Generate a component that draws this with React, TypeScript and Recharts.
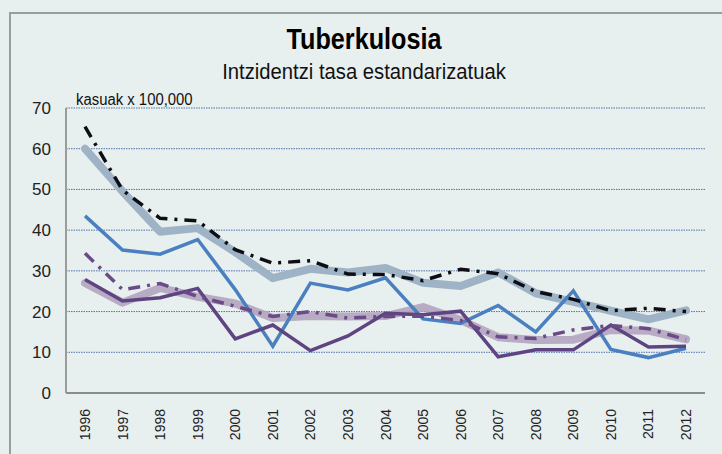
import { LineChart, Line, XAxis, YAxis, CartesianGrid } from "recharts";

const years = [
  "1996", "1997", "1998", "1999", "2000", "2001", "2002", "2003", "2004",
  "2005", "2006", "2007", "2008", "2009", "2010", "2011", "2012",
];

// thick steel-blue band
const thickBlue = [60, 49.5, 39.6, 40.5, 34.6, 28.2, 30.5, 29.6, 30.7, 27.1, 26.3, 29.6, 24.5, 22.4, 20.2, 18.1, 20.3];
// black dash-dot
const blackDash = [65.4, 49.8, 42.9, 42.3, 35.2, 31.9, 32.5, 29.2, 29.1, 27.6, 30.4, 29.3, 24.9, 23.0, 20.2, 20.8, 20.0];
// medium blue solid
const blueLine = [43.5, 35.1, 34.1, 37.7, 25.4, 11.5, 27.0, 25.3, 28.3, 18.2, 17.1, 21.5, 15.0, 25.1, 10.7, 8.7, 11.0];
// thick light mauve band
const thickMauve = [27.0, 22.2, 25.8, 23.6, 22.0, 18.4, 18.9, 18.8, 18.9, 21.1, 17.9, 13.7, 13.0, 13.1, 15.5, 15.3, 13.2];
// purple dash-dot
const purpleDash = [34.3, 25.4, 26.9, 23.7, 21.3, 18.8, 20.0, 18.4, 18.8, 18.9, 17.8, 13.8, 13.4, 15.5, 16.6, 15.8, 13.1];
// dark purple solid
const purpleLine = [27.9, 22.6, 23.4, 25.7, 13.3, 16.7, 10.4, 14.0, 19.6, 19.2, 20.1, 8.9, 10.6, 10.6, 16.7, 11.3, 11.5];

const yTicks = [0, 10, 20, 30, 40, 50, 60, 70];

const data = years.map((year, i) => ({
  year,
  thickBlue: thickBlue[i],
  blackDash: blackDash[i],
  blueLine: blueLine[i],
  thickMauve: thickMauve[i],
  purpleDash: purpleDash[i],
  purpleLine: purpleLine[i],
}));

const font = '"Liberation Sans", Arial, sans-serif';

function YearTick(props: any) {
  const { x, y, payload } = props;
  return (
    <text
      x={x}
      y={y + 8}
      transform={`rotate(-90, ${x}, ${y + 8})`}
      textAnchor="end"
      dy="0.36em"
      fill="#222"
      fontSize={14}
      fontFamily={font}
    >
      {payload.value}
    </text>
  );
}

export default function App() {
  return (
    <div
      style={{
        position: "absolute",
        left: 0,
        top: 0,
        width: 722,
        height: 454,
        background: "#e8efef",
        overflow: "hidden",
        fontFamily: font,
      }}
    >
      <div
        style={{
          position: "absolute",
          left: 9,
          top: 12,
          width: 730,
          height: 460,
          borderLeft: "2px solid #9b9d9d",
          borderTop: "2px solid #9b9d9d",
        }}
      />
      <div
        style={{
          position: "absolute",
          left: 0,
          width: 722,
          top: 22,
          textAlign: "center",
          fontWeight: "bold",
          fontSize: 30,
          color: "#000",
          transform: "translateX(3px) scaleX(0.84)",
        }}
      >
        Tuberkulosia
      </div>
      <div
        style={{
          position: "absolute",
          left: 0,
          width: 722,
          top: 59,
          textAlign: "center",
          fontSize: 22,
          color: "#111",
          transform: "translateX(3px) scaleX(0.92)",
        }}
      >
        Intzidentzi tasa estandarizatuak
      </div>
      <div
        style={{
          position: "absolute",
          left: 76,
          top: 91,
          fontSize: 16,
          color: "#111",
          transformOrigin: "0 0",
          transform: "scaleX(0.93)",
        }}
      >
        kasuak x 100,000
      </div>
      <LineChart
        width={722}
        height={454}
        data={data}
        margin={{ top: 108, right: 17, left: 36, bottom: 0 }}
        style={{ position: "absolute", left: 0, top: 0 }}
      >
        <CartesianGrid
          vertical={false}
          stroke="#4f72aa"
          strokeDasharray="1.5 1"
          strokeWidth={1}
        />
        <XAxis
          dataKey="year"
          height={61}
          padding={{ left: 19, right: 19 }}
          axisLine={{ stroke: "#8a8c8c", strokeWidth: 2 }}
          tickLine={false}
          interval={0}
          tick={<YearTick />}
        />
        <YAxis
          width={30}
          domain={[0, 70]}
          ticks={yTicks}
          interval={0}
          axisLine={{ stroke: "#9a9c9c", strokeWidth: 2 }}
          tickLine={false}
          tickSize={6}
          tickMargin={9}
          tick={{ fill: "#222", fontSize: 17, fontFamily: font }}
        />
        <Line
          dataKey="thickBlue"
          stroke="#9fb3c7"
          strokeWidth={8}
          dot={false}
          activeDot={false}
          strokeLinejoin="round"
          strokeLinecap="round"
          isAnimationActive={false}
        />
        <Line
          dataKey="thickMauve"
          stroke="#b3a4bf"
          strokeOpacity={0.9}
          strokeWidth={8}
          dot={false}
          activeDot={false}
          strokeLinejoin="round"
          strokeLinecap="round"
          isAnimationActive={false}
        />
        <Line
          dataKey="blueLine"
          stroke="#4a80c0"
          strokeWidth={3.5}
          dot={false}
          activeDot={false}
          isAnimationActive={false}
        />
        <Line
          dataKey="purpleLine"
          stroke="#5e4481"
          strokeWidth={3.5}
          dot={false}
          activeDot={false}
          isAnimationActive={false}
        />
        <Line
          dataKey="purpleDash"
          stroke="#6a4b88"
          strokeWidth={3.5}
          strokeDasharray="12 7 3 7"
          dot={false}
          activeDot={false}
          isAnimationActive={false}
        />
        <Line
          dataKey="blackDash"
          stroke="#0d0d14"
          strokeWidth={3.5}
          strokeDasharray="12 7 3 7"
          dot={false}
          activeDot={false}
          isAnimationActive={false}
        />
      </LineChart>
    </div>
  );
}
